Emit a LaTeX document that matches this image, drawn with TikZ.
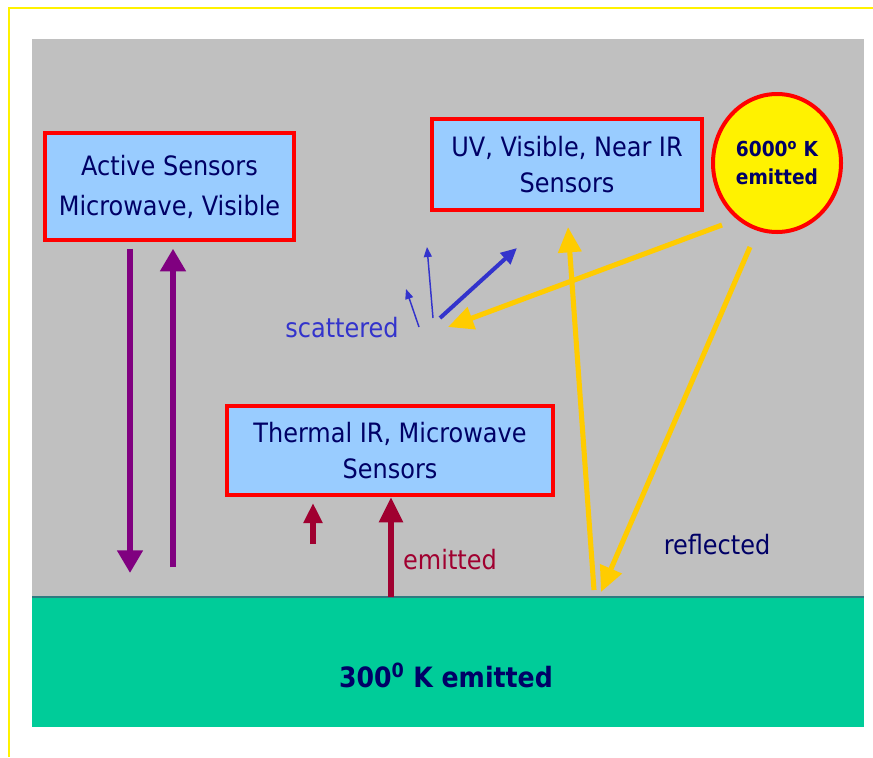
\documentclass[tikz,border=0pt]{standalone}
\usepackage{fontspec}
\setmainfont{DejaVu Sans Condensed}
\usetikzlibrary{arrows.meta,shapes.geometric}

\definecolor{skyfill}{HTML}{99CCFF}
\definecolor{navytext}{HTML}{000066}
\definecolor{boxred}{HTML}{FF0000}
\definecolor{activepurple}{HTML}{800080}
\definecolor{thermalred}{HTML}{A00030}
\definecolor{solaryellow}{HTML}{FFCC00}
\definecolor{scatterblue}{HTML}{3333CC}
\definecolor{groundgreen}{HTML}{00CC99}
\definecolor{groundline}{HTML}{2E7A80}
\definecolor{skygray}{HTML}{C0C0C0}

\begin{document}
\begin{tikzpicture}[x=0.75pt,y=-0.75pt,
    sensor/.style={draw=boxred,line width=3pt,fill=skyfill,text=navytext,
      align=center,inner sep=0pt,font=\fontsize{20}{27.5}\selectfont},
    sunnode/.style={ellipse,draw=boxred,line width=3pt,fill=yellow,text=navytext,
      align=center,inner sep=0pt,font=\bfseries\fontsize{15.5}{21.5}\selectfont},
    actarrow/.style={draw=activepurple,line width=5.2pt,-{Triangle[length=17pt,width=18.5pt]}},
    emitarrow/.style={draw=thermalred,line width=5.2pt,-{Triangle[length=19pt,width=17pt]}},
    smallemit/.style={draw=thermalred,line width=3.8pt,-{Triangle[length=15pt,width=13.5pt]}},
    solararrow/.style={draw=solaryellow,line width=3.8pt,-{Triangle[length=19pt,width=17pt]}},
    scatthick/.style={draw=scatterblue,line width=3pt,-{Triangle[length=12pt,width=11pt]}},
    scatthin/.style={draw=scatterblue,line width=1.1pt,-{Triangle[length=7.5pt,width=6pt]}},
    lbl/.style={font=\fontsize{20}{24}\selectfont}]

\useasboundingbox (0,0) rectangle (873,757);
\draw[yellow,line width=1.6pt] (9,757) -- (9,8) -- (873,8);

\fill[skygray] (32,39) rectangle (864,597);
\fill[groundgreen] (32,597) rectangle (864,727);
\draw[groundline,line width=1.5pt] (32,597) -- (864,597);
\node[font=\bfseries\fontsize{21}{24}\selectfont,text=navytext] (ground) at (446,675)
  {300\textsuperscript{0} K emitted};

\node[sensor,minimum width=186.75pt,minimum height=80.25pt,
  font=\fontsize{20}{30}\selectfont] (act) at (169.5,186.5)
  {Active Sensors\\Microwave, Visible};
\node[sensor,minimum width=202.5pt,minimum height=68.25pt] (uv) at (567,164.5)
  {UV, Visible, Near IR\\Sensors};
\node[sensor,minimum width=244.5pt,minimum height=66.75pt] (therm) at (390,450.5)
  {Thermal IR, Microwave\\Sensors};
\node[sunnode,minimum width=96pt,minimum height=103.5pt] (sun) at (777,163)
  {6000\textsuperscript{o} K\\emitted};

\node[lbl,text=scatterblue] (scatlbl) at (342,328) {scattered};
\node[lbl,text=navytext] (refllbl) at (717,545) {reflected};
\node[lbl,text=thermalred] (emitlbl) at (450,560) {emitted};

\coordinate (actdown) at (130,573);
\coordinate (actup) at (173,567);
\draw[actarrow,shorten <=5pt] (act.south -| actdown) -- (actdown);
\draw[actarrow,shorten >=5pt] (actup) -- (act.south -| actup);

\coordinate (emitbase) at (391,597);
\coordinate (emitlow) at (313,544);
\coordinate (emithigh) at (313,503);
\draw[emitarrow] (emitbase) -- (therm.south -| emitbase);
\draw[smallemit] (emitlow) -- (emithigh);

\coordinate (sunleft) at (722,225);
\coordinate (sunlow) at (750,247);
\coordinate (scat) at (448,327);
\coordinate (reflbase) at (594,590);
\coordinate (refltip) at (601,592);
\coordinate (uvtip) at (568,227);
\draw[solararrow] (sunleft) -- (scat);
\draw[solararrow] (sunlow) -- (refltip);
\draw[solararrow] (reflbase) -- (uvtip);

\coordinate (scatA) at (440,318);
\coordinate (scatAend) at (517,248);
\coordinate (scatB) at (433,318);
\coordinate (scatBend) at (427,247);
\coordinate (scatC) at (419,327);
\coordinate (scatCend) at (406,289);
\draw[scatthick] (scatA) -- (scatAend);
\draw[scatthin] (scatB) -- (scatBend);
\draw[scatthin] (scatC) -- (scatCend);
\end{tikzpicture}
\end{document}
